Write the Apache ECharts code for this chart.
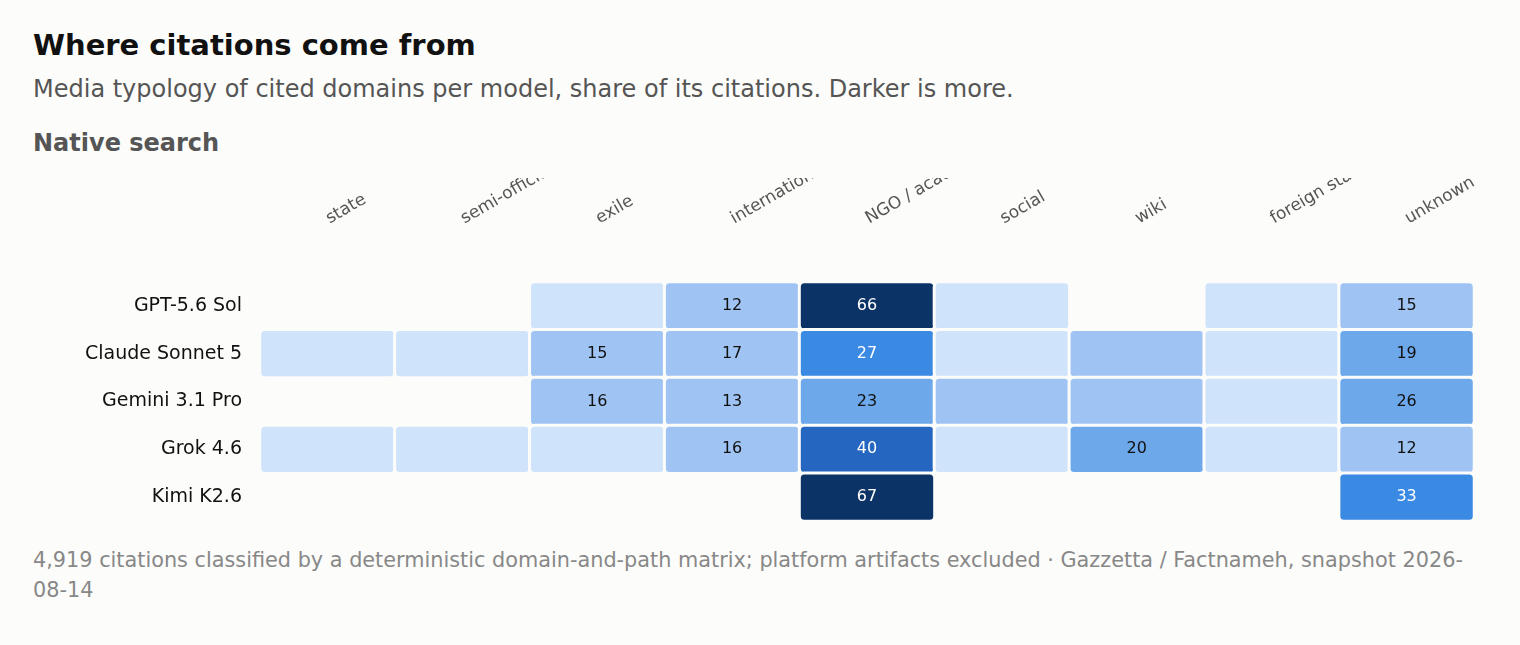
<!DOCTYPE html>
<html>
<head>
<meta charset="utf-8">
<script src="https://cdn.jsdelivr.net/npm/echarts@6/dist/echarts.min.js"></script>
<style>
body{margin:0;background:#fcfcfa;font-family:"DejaVu Sans",sans-serif;width:1520px;height:645px;position:relative;overflow:hidden}
h1{position:absolute;left:33px;top:28px;margin:0;font-size:29px;color:#111}
.sub{position:absolute;left:33px;top:75px;font-size:24px;color:#555}
.sec{position:absolute;left:33px;top:129px;font-size:24px;font-weight:bold;color:#555}
#chart{position:absolute;left:0;top:178px;width:1520px;height:360px}
.foot{position:absolute;left:33px;top:545px;width:1450px;font-size:20.8px;line-height:30px;color:#888}
</style>
</head>
<body>
<h1>Where citations come from</h1>
<div class="sub">Media typology of cited domains per model, share of its citations. Darker is more.</div>
<div class="sec">Native search</div>
<div id="chart"></div>
<div class="foot">4,919 citations classified by a deterministic domain-and-path matrix; platform artifacts excluded · Gazzetta / Factnameh, snapshot 2026-08-14</div>
<script>
var categories = ["state","semi-official","exile","international","NGO / academic","social","wiki","foreign state","unknown"];
var models = ["GPT-5.6 Sol","Claude Sonnet 5","Gemini 3.1 Pro","Grok 4.6","Kimi K2.6"];
// share per model, null = no citations
var gpt    = [null,null,4,12,66,3,null,3,15];
var claude = [2,2,15,17,27,3,9,3,19];
var gemini = [null,null,16,13,23,9,9,4,26];
var grok   = [2,2,3,16,40,3,20,2,12];
var kimi   = [null,null,null,null,67,null,null,null,33];
var rows = [gpt,claude,gemini,grok,kimi];

var data = [];
rows.forEach(function(r,y){
  r.forEach(function(v,x){ if(v!=null) data.push([x,y,v]); });
});

var chart = echarts.init(document.getElementById('chart'));
chart.setOption({
  animation:false,
  grid:{left:260,right:46,top:104,bottom:17,containLabel:false,outerBoundsMode:'none'},
  xAxis:{type:'category',data:categories,position:'top',
    axisLine:{show:false},axisTick:{show:false},splitArea:{show:false},
    axisLabel:{rotate:-30,margin:62,color:'#555',fontSize:17,fontFamily:'DejaVu Sans'}},
  yAxis:{type:'category',data:models,inverse:true,
    axisLine:{show:false},axisTick:{show:false},
    axisLabel:{color:'#111',fontSize:19,margin:18,fontFamily:'DejaVu Sans'}},
  visualMap:{show:false,type:'piecewise',dimension:2,pieces:[
    {min:0,max:8.5,color:'#cfe3fb'},
    {min:8.5,max:18,color:'#9fc4f4'},
    {min:18,max:26.5,color:'#6ca8ea'},
    {min:26.5,max:35,color:'#3a89e2'},
    {min:35,max:55,color:'#2566c0'},
    {min:55,max:100,color:'#0b3366'}]},
  series:[{type:'heatmap',
    data:data.map(function(d){
      return {value:d,label:{color:d[2]>=27?'#fff':'#111'}};
    }),
    itemStyle:{borderColor:'#fcfcfa',borderWidth:3,borderRadius:5},
    label:{show:true,fontSize:16,fontFamily:'DejaVu Sans',
      formatter:function(p){return p.value[2]>=10?p.value[2]:'';}}}]
});
</script>
</body>
</html>
